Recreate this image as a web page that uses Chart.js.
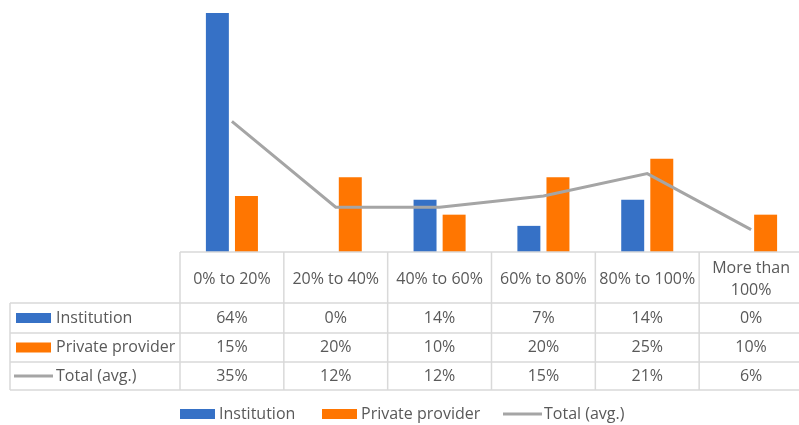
<!DOCTYPE html>
<html>
<head>
<meta charset="utf-8">
<script src="https://cdn.jsdelivr.net/npm/chart.js@4.4.1/dist/chart.umd.min.js"></script>
<style>
  html, body { margin: 0; padding: 0; background: #fff; overflow: hidden; }
  #wrap { width: 803px; height: 425px; position: relative; }
</style>
</head>
<body>
<div id="wrap"><canvas id="chart"></canvas></div>
<script>
const categories = ['0% to 20%', '20% to 40%', '40% to 60%', '60% to 80%', '80% to 100%', ['More than', '100%']];
const institution = [0.64, 0, 0.14, 0.07, 0.14, 0];
const privateProvider = [0.15, 0.20, 0.10, 0.20, 0.25, 0.10];
const totalAvg = [0.35, 0.12, 0.12, 0.15, 0.21, 0.06];

const BLUE = '#3671C6';
const ORANGE = '#FF7601';
const GRAY = '#A5A5A5';
const TEXT = '#595959';
const GRID = '#D9D9D9';
const FONT = '16px "Open Sans", sans-serif';

// draws the data table under the plot and the legend at the bottom
const tablePlugin = {
  id: 'dataTable',
  afterDraw(chart) {
    const ctx = chart.ctx;
    const area = chart.chartArea;
    const n = categories.length;
    const colW = (area.right - area.left) / n;
    const rows = [303, 333, 362, 390];
    const top = area.bottom;
    const left = 10;

    ctx.save();
    ctx.strokeStyle = GRID;
    ctx.lineWidth = 1.5;
    ctx.beginPath();
    ctx.moveTo(area.left, top); ctx.lineTo(area.right, top);
    rows.forEach(y => { ctx.moveTo(left, y); ctx.lineTo(area.right, y); });
    ctx.moveTo(left, rows[0]); ctx.lineTo(left, rows[3]);
    for (let i = 0; i <= n; i++) {
      const x = area.left + i * colW;
      ctx.moveTo(x, top); ctx.lineTo(x, rows[3]);
    }
    ctx.stroke();

    ctx.font = FONT;
    ctx.fillStyle = TEXT;
    ctx.textAlign = 'center';
    ctx.textBaseline = 'middle';
    const xs = chart.scales.x;
    categories.forEach((c, i) => {
      const cx = xs.getPixelForValue(i);
      if (Array.isArray(c)) {
        ctx.fillText(c[0], cx, 268);
        ctx.fillText(c[1], cx, 290);
      } else {
        ctx.fillText(c, cx, 279);
      }
    });

    const series = [institution, privateProvider, totalAvg];
    series.forEach((vals, r) => {
      const cy = (rows[r] + rows[r + 1]) / 2;
      vals.forEach((v, i) => {
        ctx.fillText(Math.round(v * 100) + '%', xs.getPixelForValue(i), cy);
      });
    });

    // row keys
    const sets = chart.data.datasets;
    ctx.textAlign = 'left';
    sets.forEach((ds, r) => {
      const cy = (rows[r] + rows[r + 1]) / 2;
      drawKey(ctx, ds, 15, cy);
      ctx.fillStyle = TEXT;
      ctx.fillText(ds.label, 56, cy);
    });

    // bottom legend
    const legendX = [179, 321, 504];
    sets.forEach((ds, r) => {
      drawKey(ctx, ds, legendX[r], 414);
      ctx.fillStyle = TEXT;
      ctx.fillText(ds.label, legendX[r] + 40, 414);
    });
    ctx.restore();
  }
};

function drawKey(ctx, ds, x, cy) {
  if (ds.type === 'line') {
    ctx.strokeStyle = ds.borderColor;
    ctx.lineWidth = 3;
    ctx.beginPath();
    ctx.moveTo(x - 1, cy); ctx.lineTo(x + 38, cy);
    ctx.stroke();
  } else {
    ctx.fillStyle = ds.backgroundColor;
    ctx.fillRect(x + 1, cy - 5, 35, 10);
  }
}

new Chart(document.getElementById('chart'), {
  data: {
    labels: categories,
    datasets: [
      {
        type: 'bar',
        label: 'Institution',
        data: institution,
        backgroundColor: BLUE,
        categoryPercentage: 0.56,
        barPercentage: 0.79,
        order: 1
      },
      {
        type: 'bar',
        label: 'Private provider',
        data: privateProvider,
        backgroundColor: ORANGE,
        categoryPercentage: 0.56,
        barPercentage: 0.79,
        order: 1
      },
      {
        type: 'line',
        label: 'Total (avg.)',
        data: totalAvg,
        borderColor: GRAY,
        borderWidth: 3,
        pointRadius: 0,
        tension: 0,
        order: 0
      }
    ]
  },
  options: {
    responsive: true,
    maintainAspectRatio: false,
    animation: false,
    layout: { padding: { left: 180, right: 0, top: 0, bottom: 173 } },
    scales: {
      x: { display: false, offset: true },
      y: { display: false, min: 0, max: 0.675 }
    },
    plugins: {
      legend: { display: false },
      tooltip: { enabled: false }
    }
  },
  plugins: [tablePlugin]
});
</script>
</body>
</html>
